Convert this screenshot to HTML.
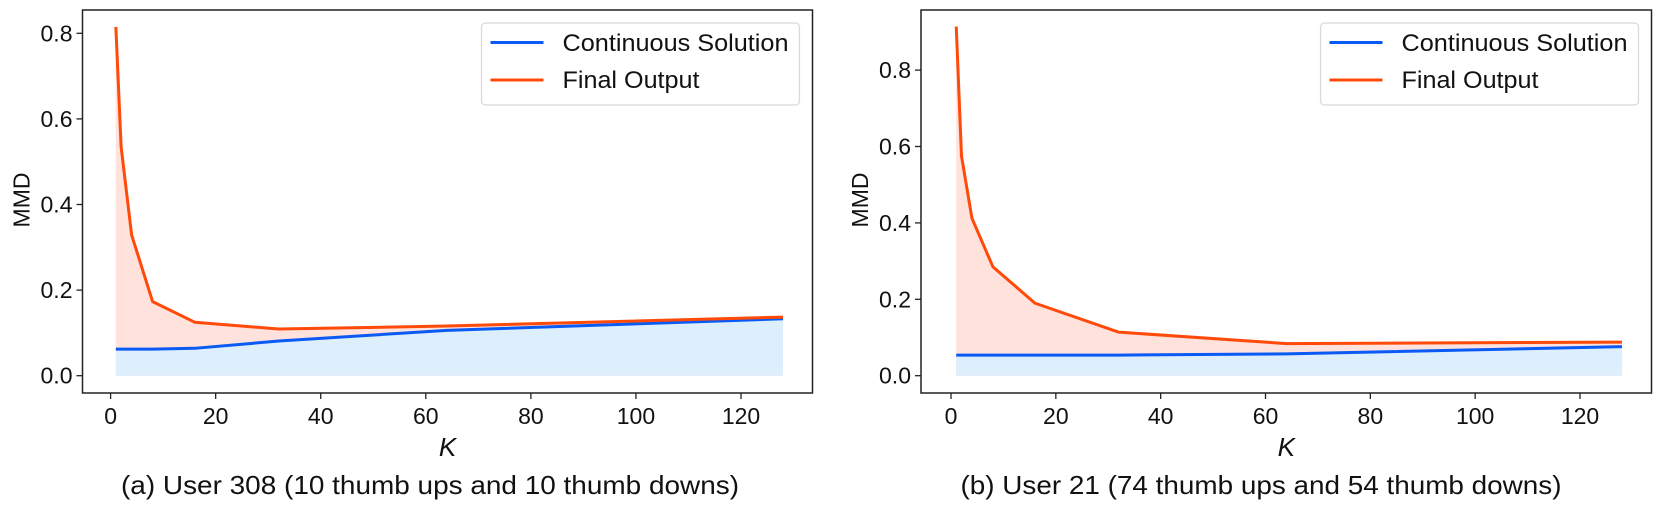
<!DOCTYPE html>
<html><head><meta charset="utf-8"><style>
html,body{margin:0;padding:0;background:#fff;}
svg{display:block;}
text{font-family:"Liberation Sans","DejaVu Sans",sans-serif;fill:#111;}
</style></head><body>
<svg id="fig" width="1661" height="507" viewBox="0 0 1661 507" xmlns="http://www.w3.org/2000/svg"></svg>
<script>
const kValues = [1, 2, 4, 8, 16, 32, 64, 128];
const aFinal = [0.815, 0.535, 0.329, 0.173, 0.125, 0.109, 0.116, 0.137];
const aCont  = [0.062, 0.062, 0.062, 0.062, 0.064, 0.081, 0.106, 0.133];
const bFinal = [0.914, 0.575, 0.412, 0.285, 0.190, 0.114, 0.084, 0.088];
const bCont  = [0.054, 0.054, 0.054, 0.054, 0.054, 0.054, 0.057, 0.076];
const xTicks = [0, 20, 40, 60, 80, 100, 120];
const aYTicks = [0.0, 0.2, 0.4, 0.6, 0.8];
const bYTicks = [0.0, 0.2, 0.4, 0.6, 0.8];
const captions = ["(a) User 308 (10 thumb ups and 10 thumb downs)", "(b) User 21 (74 thumb ups and 54 thumb downs)"];

const NS = "http://www.w3.org/2000/svg";
const fig = document.getElementById('fig');
function mk(tag, attrs, parent){
  const e = document.createElementNS(NS, tag);
  for (const k in attrs) e.setAttribute(k, attrs[k]);
  (parent || fig).appendChild(e);
  return e;
}

function panel(cfg){
  const g = mk('g', {});
  
  
  const X = v => cfg.x0 + v * (cfg.x120 - cfg.x0) / 120;
  const Y = v => cfg.y0 - v * cfg.ppu;
  const ptsF = kValues.map((k,i)=>X(k)+','+Y(cfg.fin[i])).join(' ');
  const ptsC = kValues.map((k,i)=>X(k)+','+Y(cfg.con[i])).join(' ');
  const xs = X(kValues[0]), xe = X(kValues[kValues.length-1]);
  const fillF = mk('polygon', {points: xs+','+Y(0)+' '+ptsF+' '+xe+','+Y(0), fill:'#ffe2dc'}, g);
  
  
  const fillC = mk('polygon', {points: xs+','+Y(0)+' '+ptsC+' '+xe+','+Y(0), fill:'#ddeefc'}, g);
  
  
  const lc = mk('polyline', {points: ptsC, fill:'none', stroke:'#0a5af5', 'stroke-width':3, 'stroke-linejoin':'round'}, g);
  
  
  const lf = mk('polyline', {points: ptsF, fill:'none', stroke:'#ff4a0a', 'stroke-width':3, 'stroke-linejoin':'round'}, g);
  
  
  const frame = mk('rect', {x:cfg.L, y:cfg.T, width:cfg.R-cfg.L, height:cfg.B-cfg.T, fill:'none', stroke:'#222', 'stroke-width':1.5}, g);
  
  
  xTicks.forEach(t=>{
    mk('line', {x1:X(t), x2:X(t), y1:cfg.B, y2:cfg.B+6, stroke:'#222','stroke-width':1.3}, g);
    const tx = mk('text', {x:X(t), y:cfg.B+31, 'text-anchor':'middle', 'font-size':23}, g);
    tx.textContent = t;
    
    
  });
  cfg.yt.forEach(t=>{
    mk('line', {x1:cfg.L-6, x2:cfg.L, y1:Y(t), y2:Y(t), stroke:'#222','stroke-width':1.3}, g);
    const tx = mk('text', {x:cfg.L-10, y:Y(t)+8, 'text-anchor':'end', 'font-size':23}, g);
    tx.textContent = t.toFixed(1);
    
    
  });
  const yl = mk('text', {x:0, y:0, 'text-anchor':'middle', 'font-size':23, transform:'translate('+(cfg.L-53)+',200) rotate(-90)'}, g);
  yl.textContent = 'MMD';
  
  
  const xl = mk('text', {x:(cfg.L+cfg.R)/2, y:456, 'text-anchor':'middle', 'font-size':26, 'font-style':'italic'}, g);
  xl.textContent = 'K';
  
  
  const cap = mk('text', {x:cfg.capX, y:494, 'text-anchor':'middle', 'font-size':26, textLength:cfg.capW, lengthAdjust:'spacingAndGlyphs'}, g);
  cap.textContent = cfg.caption;
  
  
  const lg = mk('g', {}, g);
  
  
  const lx = cfg.R - 331;
  mk('rect', {x:lx, y:23, width:318, height:82, rx:4, fill:'#fff', stroke:'#d8d8d8', 'stroke-width':1.2}, lg);
  const e1 = mk('line', {x1:lx+9, x2:lx+62, y1:42.5, y2:42.5, stroke:'#0a5af5','stroke-width':3}, lg);
  
  
  const t1 = mk('text', {x:lx+81, y:51, 'font-size':24, textLength:226, lengthAdjust:'spacingAndGlyphs'}, lg);
  t1.textContent = 'Continuous Solution';
  
  
  const e2 = mk('line', {x1:lx+9, x2:lx+62, y1:80, y2:80, stroke:'#ff4a0a','stroke-width':3}, lg);
  
  
  const t2 = mk('text', {x:lx+81, y:88, 'font-size':24, textLength:137, lengthAdjust:'spacingAndGlyphs'}, lg);
  t2.textContent = 'Final Output';
  
  
}

panel({name:'chart-a', L:82.5, R:812.5, T:10, B:393, x0:110.6, x120:741, y0:375.7, ppu:428, fin:aFinal, con:aCont, yt:aYTicks, caption:captions[0], capX:430, capW:618});
panel({name:'chart-b', L:921, R:1651.5, T:10, B:393, x0:951, x120:1580, y0:375.7, ppu:382, fin:bFinal, con:bCont, yt:bYTicks, caption:captions[1], capX:1261, capW:601});
</script>
</body></html>
